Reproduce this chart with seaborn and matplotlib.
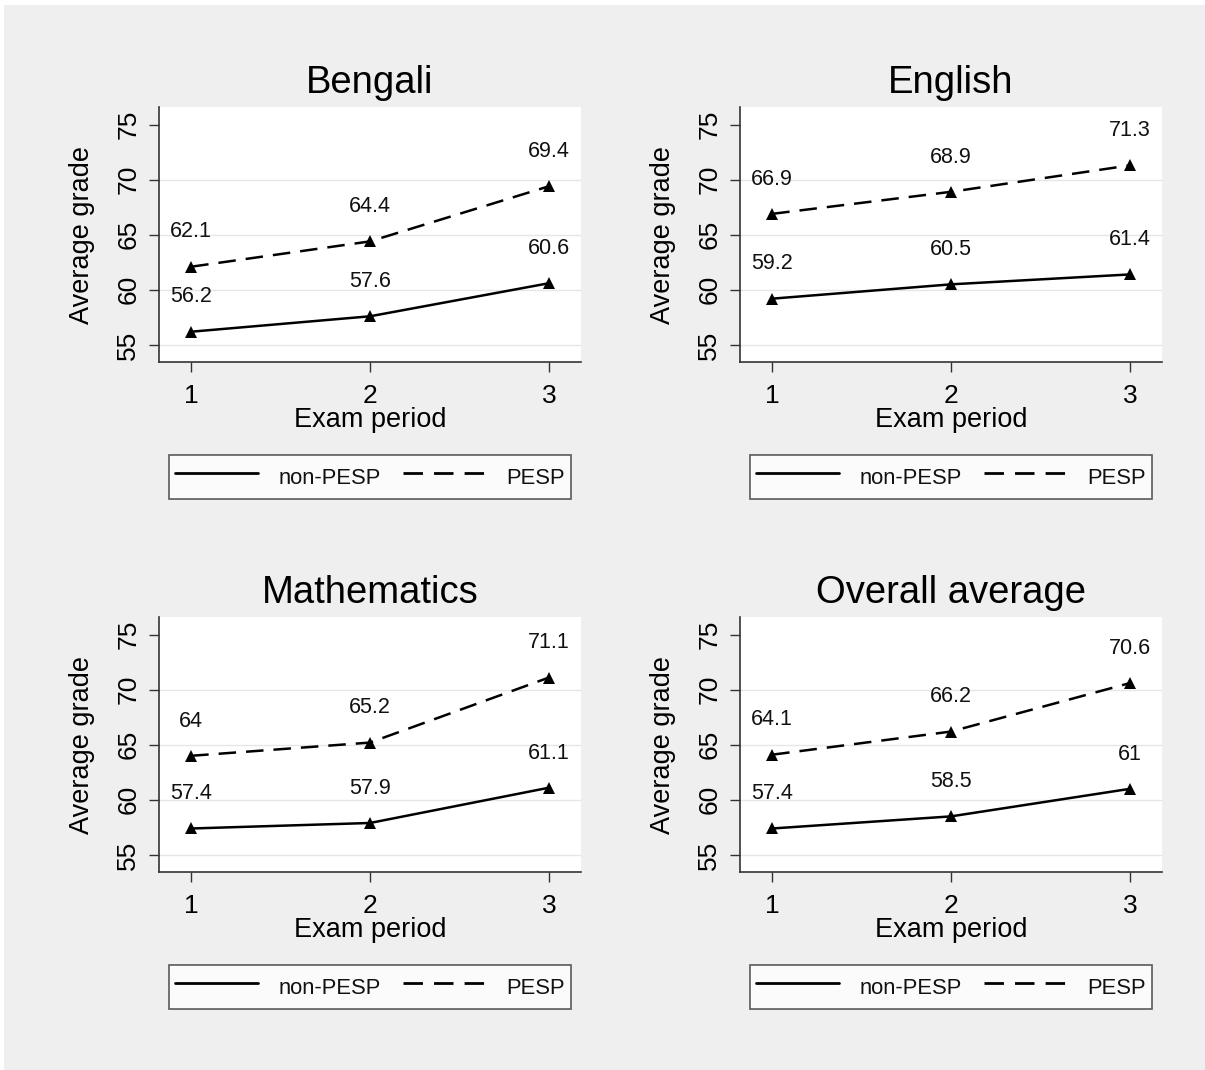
import pandas as pd
import matplotlib.pyplot as plt
import seaborn as sns
from matplotlib.lines import Line2D
from matplotlib.patches import Rectangle

# Configuración general
sns.set_theme(style="white")
plt.rcParams["font.family"] = ["Liberation Sans", "DejaVu Sans"]
plt.rcParams["text.color"] = "black"

# DATOS
# -----------------------------
periodos = [1, 2, 3]
materias = ["Bengali", "English", "Mathematics", "Overall average"]
non_pesp = {
    "Bengali": [56.2, 57.6, 60.6],
    "English": [59.2, 60.5, 61.4],
    "Mathematics": [57.4, 57.9, 61.1],
    "Overall average": [57.4, 58.5, 61.0],
}
pesp = {
    "Bengali": [62.1, 64.4, 69.4],
    "English": [66.9, 68.9, 71.3],
    "Mathematics": [64.0, 65.2, 71.1],
    "Overall average": [64.1, 66.2, 70.6],
}
grupos = ["non-PESP", "PESP"]
y_ticks = [55, 60, 65, 70, 75]

# tabla larga para seaborn
filas = []
for m in materias:
    for g, vals in zip(grupos, [non_pesp[m], pesp[m]]):
        for p, v in zip(periodos, vals):
            filas.append({"materia": m, "grupo": g, "periodo": p, "nota": v})
df = pd.DataFrame(filas)

# -----------------------------
# Figura
# -----------------------------
W, H = 1205, 1070
fig = plt.figure(figsize=(W / 100, H / 100), dpi=100, facecolor="white")
fig.patches.append(Rectangle((4 / W, 0), 1 - 4 / W, 1 - 5 / H, transform=fig.transFigure,
                             facecolor="#efefef", edgecolor="none", zorder=-10))

# posiciones de los paneles (pixeles: izquierda, arriba)
pos = [(159, 107), (740, 107), (159, 617), (740, 617)]
ancho, alto = 422, 255

estilos = {"non-PESP": "", "PESP": (7, 4)}
linestyles = {"non-PESP": "-", "PESP": (0, (7, 4))}

for m, (px, py) in zip(materias, pos):
    ax = fig.add_axes([px / W, 1 - (py + alto) / H, ancho / W, alto / H])
    ax.set_facecolor("white")
    d = df[df["materia"] == m]
    sns.lineplot(data=d, x="periodo", y="nota", style="grupo", style_order=grupos,
                 dashes=estilos, markers={"non-PESP": "^", "PESP": "^"},
                 color="black", linewidth=1.8, markersize=9, markeredgewidth=0,
                 legend=False, ax=ax)

    # etiquetas de valores
    for _, r in d.iterrows():
        ax.annotate(f"{r['nota']:g}", (r["periodo"], r["nota"]), xytext=(0, 25),
                    textcoords="offset points", ha="center", va="center",
                    fontsize=15.5, color="#111111")

    ax.set_xlim(0.82, 3.18)
    ax.set_ylim(53.45, 76.6)
    ax.set_xticks(periodos)
    ax.set_yticks(y_ticks)
    ax.tick_params(axis="both", which="major", length=7, width=1, color="#333333",
                   labelsize=19, labelcolor="black", left=True, bottom=True)
    ax.tick_params(axis="x", pad=9)
    ax.tick_params(axis="y", pad=6.5)
    for lbl in ax.get_yticklabels():
        lbl.set_rotation(90)
        lbl.set_va("center")

    ax.grid(axis="y", color="#e6e6e6", linewidth=1)
    ax.yaxis.get_gridlines()[-1].set_visible(False)
    ax.set_axisbelow(True)

    for s in ["top", "right"]:
        ax.spines[s].set_visible(False)
    for s in ["left", "bottom"]:
        ax.spines[s].set_color("#333333")
        ax.spines[s].set_linewidth(1.2)

    ax.set_title(m, fontsize=27.5, pad=10, color="black")
    ax.set_xlabel("Exam period", fontsize=19.5, color="black")
    ax.set_ylabel("Average grade", fontsize=19.5, color="black")
    ax.xaxis.set_label_coords(0.5, -0.227)
    ax.xaxis.label.set_va("center")
    ax.yaxis.set_label_coords(-0.182, 0.5)
    ax.yaxis.label.set_va("center")

    handles = [Line2D([], [], color="black", linewidth=2, linestyle=linestyles[g]) for g in grupos]
    leg = ax.legend(handles, grupos, loc="center", bbox_to_anchor=(0.5, -0.451), ncol=2,
                    fontsize=15.8, frameon=True, fancybox=False, handlelength=3.75,
                    handleheight=1.75, handletextpad=0.95, columnspacing=1.0,
                    borderpad=0.3, labelcolor="#111111")
    leg.get_frame().set_edgecolor("#333333")
    leg.get_frame().set_linewidth(1.2)
    leg.get_frame().set_facecolor("white")

plt.savefig("out.png", dpi=100, facecolor=fig.get_facecolor())
